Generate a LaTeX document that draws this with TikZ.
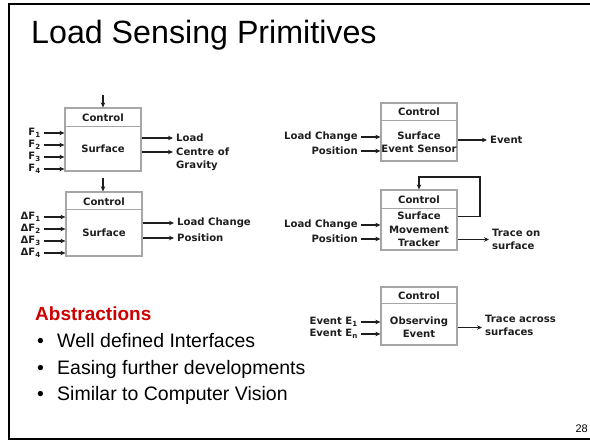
\documentclass[tikz,border=0pt]{standalone}
\usepackage{fontspec}
\setmainfont{Liberation Sans}
\newfontfamily\diagfont{DejaVu Sans}
\usetikzlibrary{arrows.meta,calc}
\definecolor{ink}{HTML}{1E1E1E}
\definecolor{boxgray}{HTML}{A6A6A6}
\definecolor{absred}{HTML}{CC0000}
\begin{document}
\begin{tikzpicture}[x=1pt,y=-1pt,
  blk/.style={draw=boxgray,line width=1.2pt,fill=white,minimum width=76pt,inner sep=0pt},
  divl/.style={draw=boxgray,line width=1.2pt},
  dtxt/.style={font=\diagfont\bfseries\fontsize{10.1}{13.5}\selectfont,text=ink,inner sep=1pt},
  lbl/.style={dtxt,inner xsep=3pt},
  arr/.style={draw=ink,line width=1.2pt,-{Stealth[length=5pt,width=4.5pt]}},
  frame/.style={draw=black,line width=2.2pt}
]
\useasboundingbox (0,0) rectangle (590,441);
\draw[frame] (600,4) -- (9,4) -- (9,439) -- (600,439);

\node[anchor=base west,inner sep=0pt,font=\fontsize{32.2}{36}\selectfont] (title) at (31,44) {Load Sensing Primitives};

% ---------- block 1
\node[blk,minimum height=63pt] (b1) at (103,139.5) {};
\draw[divl] ([yshift=-19pt]b1.north west) -- ([yshift=-19pt]b1.north east);
\node[dtxt] (c1) at (103,117.5) {Control};
\node[dtxt] (s1) at (103,149) {Surface};
\coordinate (t1) at (103,95);
\draw[arr] (t1) -- (b1.north);
\node[lbl,anchor=east] (i11) at (44,133) {F\textsubscript{1}};
\node[lbl,anchor=east] (i12) at (44,145) {F\textsubscript{2}};
\node[lbl,anchor=east] (i13) at (44,157) {F\textsubscript{3}};
\node[lbl,anchor=east] (i14) at (44,169) {F\textsubscript{4}};
\foreach \n in {i11,i12,i13,i14} \draw[arr] (\n.east) -- (\n.east -| b1.west);
\node[lbl,anchor=west] (o11) at (173,138) {Load};
\node[lbl,anchor=west] (o12) at (173,152) {Centre of};
\node[lbl,anchor=west] (o13) at (173,165.5) {Gravity};
\draw[arr] (b1.east |- o11.west) -- (o11.west);
\draw[arr] (b1.east |- o12.west) -- (o12.west);

% ---------- block 2
\node[blk,minimum height=64pt] (b2) at (104,224) {};
\draw[divl] ([yshift=-18pt]b2.north west) -- ([yshift=-18pt]b2.north east);
\node[dtxt] (c2) at (104,201.5) {Control};
\node[dtxt] (s2) at (104,233) {Surface};
\coordinate (t2) at (103,178);
\draw[arr] (t2) -- (t2 |- b2.north);
\node[lbl,anchor=east] (i21) at (44,217) {ΔF\textsubscript{1}};
\node[lbl,anchor=east] (i22) at (44,229) {ΔF\textsubscript{2}};
\node[lbl,anchor=east] (i23) at (44,241) {ΔF\textsubscript{3}};
\node[lbl,anchor=east] (i24) at (44,253) {ΔF\textsubscript{4}};
\foreach \n in {i21,i22,i23,i24} \draw[arr] (\n.east) -- (\n.east -| b2.west);
\node[lbl,anchor=west] (o21) at (174,223) {Load Change};
\node[lbl,anchor=west] (o22) at (174,238) {Position};
\draw[arr] (b2.east |- o21.west) -- (o21.west);
\draw[arr] (b2.east |- o22.west) -- (o22.west);

% ---------- block 3
\node[blk,minimum height=58pt] (b3) at (419,132) {};
\draw[divl] ([yshift=-18pt]b3.north west) -- ([yshift=-18pt]b3.north east);
\node[dtxt] (c3) at (419,112) {Control};
\node[dtxt,align=center] (s3) at (419,142) {Surface\\Event Sensor};
\node[lbl,anchor=east] (i31) at (361,137) {Load Change};
\node[lbl,anchor=east] (i32) at (361,151) {Position};
\draw[arr] (i31.east) -- (i31.east -| b3.west);
\draw[arr] (i32.east) -- (i32.east -| b3.west);
\node[lbl,anchor=west] (o31) at (487,140) {Event};
\draw[arr] (b3.east |- o31.west) -- (o31.west);

% ---------- block 4
\node[blk,minimum height=60pt] (b4) at (419,220) {};
\draw[divl] ([yshift=-19pt]b4.north west) -- ([yshift=-19pt]b4.north east);
\node[dtxt] (c4) at (419,200) {Control};
\node[dtxt,align=center] (s4) at (419,229.5) {Surface\\Movement\\Tracker};
\node[lbl,anchor=east] (i41) at (361,225) {Load Change};
\node[lbl,anchor=east] (i42) at (361,239) {Position};
\draw[arr] (i41.east) -- (i41.east -| b4.west);
\draw[arr] (i42.east) -- (i42.east -| b4.west);
\node[lbl,anchor=west,align=left] (o41) at (489,239.5) {Trace on\\surface};
\draw[arr] (b4.east |- o41.west) -- (o41.west);
\coordinate (fb) at (480,177);
\draw[arr] ([yshift=-27pt]b4.north east) -| (fb) -| (b4.north);

% ---------- block 5
\node[blk,minimum height=58pt] (b5) at (419,316) {};
\draw[divl] ([yshift=-17pt]b5.north west) -- ([yshift=-17pt]b5.north east);
\node[dtxt] (c5) at (419,295.5) {Control};
\node[dtxt,align=center] (s5) at (419,327) {Observing\\Event};
\node[lbl,anchor=east] (i51) at (361,322) {Event E\textsubscript{1}};
\node[lbl,anchor=east] (i52) at (361,334) {Event E\textsubscript{n}};
\draw[arr] (i51.east) -- (i51.east -| b5.west);
\draw[arr] (i52.east) -- (i52.east -| b5.west);
\node[lbl,anchor=west,align=left] (o51) at (482,325.5) {Trace across\\surfaces};
\draw[arr] ([yshift=-2pt]b5.east |- o51.west) -- ([yshift=-2pt]o51.west);

% ---------- text
\node[anchor=base west,inner sep=0pt,text=absred,font=\bfseries\fontsize{19}{22}\selectfont] (abs) at (35,320) {Abstractions};
\node[anchor=base west,inner sep=0pt,font=\fontsize{19.5}{23}\selectfont] (bu1) at (37,348) {•};
\node[anchor=base west,inner sep=0pt,font=\fontsize{19.5}{23}\selectfont] (bt1) at (57,348) {Well defined Interfaces};
\node[anchor=base west,inner sep=0pt,font=\fontsize{19.5}{23}\selectfont] (bu2) at (37,374.5) {•};
\node[anchor=base west,inner sep=0pt,font=\fontsize{19.5}{23}\selectfont] (bt2) at (57,374.5) {Easing further developments};
\node[anchor=base west,inner sep=0pt,font=\fontsize{19.5}{23}\selectfont] (bu3) at (37,400.5) {•};
\node[anchor=base west,inner sep=0pt,font=\fontsize{19.5}{23}\selectfont] (bt3) at (57,400.5) {Similar to Computer Vision};
\node[anchor=base east,inner sep=0pt,font=\fontsize{11}{13}\selectfont] (pg) at (588,432) {28};
\end{tikzpicture}
\end{document}
